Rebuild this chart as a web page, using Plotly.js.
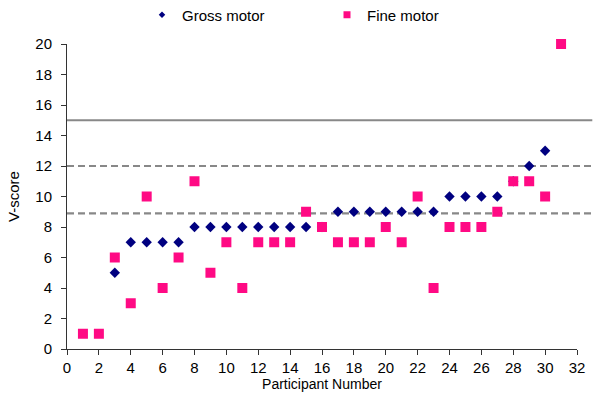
<!DOCTYPE html>
<html>
<head>
<meta charset="utf-8">
<script src="https://cdn.plot.ly/plotly-3.0.1.min.js"></script>
<style>html,body{margin:0;padding:0;background:#fff;}#chart{width:600px;height:400px;}</style>
</head>
<body>
<div id="chart"></div>
<script>
const grossX = [3,4,5,6,7,8,9,10,11,12,13,14,15,16,17,18,19,20,21,22,23,24,25,26,27,28,29,30];
const grossY = [5,7,7,7,7,8,8,8,8,8,8,8,8,8,9,9,9,9,9,9,9,10,10,10,10,11,12,13];
const fineX = [1,2,3,4,5,6,7,8,9,10,11,12,13,14,15,16,17,18,19,20,21,22,23,24,25,26,27,28,29,30,31];
const fineY = [1,1,6,3,10,4,6,11,5,7,4,7,7,7,9,8,7,7,7,8,7,10,4,8,8,8,9,11,11,10,20];
const solidLine = 15;
const dashedLines = [12, 8.9];
const xTicks = [0,2,4,6,8,10,12,14,16,18,20,22,24,26,28,30,32];
const yTicks = [0,2,4,6,8,10,12,14,16,18,20];

const navy = '#000080';
const pink = '#FF0A84';
const lineEnd = 1.03;
const shapes = [
  {type:'line', xref:'paper', yref:'y', x0:0, x1:lineEnd, y0:solidLine, y1:solidLine, line:{color:'#888888', width:2.2}, layer:'below'}
].concat(dashedLines.map(v => ({type:'line', xref:'paper', yref:'y', x0:0, x1:lineEnd, y0:v, y1:v, line:{color:'#888888', width:2.2, dash:'7px,4px'}, layer:'below'})));

const traces = [
  {x: grossX, y: grossY, name:'Gross motor', type:'scatter', mode:'markers', marker:{symbol:'diamond', size:8, color:navy}, cliponaxis:false, showlegend:false},
  {x: fineX, y: fineY, name:'Fine motor', type:'scatter', mode:'markers', marker:{symbol:'square', size:10, color:pink}, cliponaxis:false, showlegend:false},
  {x: [null], y: [null], name:'Gross motor', type:'scatter', mode:'markers', marker:{symbol:'diamond', size:5, color:navy}, legend:'legend'},
  {x: [null], y: [null], name:'Fine motor', type:'scatter', mode:'markers', marker:{symbol:'square', size:7, color:pink}, legend:'legend2'}
];

const legendBase = {orientation:'h', xref:'container', yref:'container', yanchor:'middle', xanchor:'left', font:{size:15, color:'#000'}, bgcolor:'rgba(0,0,0,0)', itemwidth:30};

const layout = {
  width:600, height:400,
  margin:{l:67, r:23, t:44, b:51},
  paper_bgcolor:'#fff', plot_bgcolor:'#fff',
  font:{family:'Liberation Sans, Arial, sans-serif', size:15, color:'#000'},
  showlegend:true,
  legend: Object.assign({}, legendBase, {x:142/600, y:1-15/400}),
  legend2: Object.assign({}, legendBase, {x:327/600, y:1-15/400}),
  xaxis:{range:[0,32], tickvals:xTicks, ticktext:xTicks.map(String), ticks:'outside', ticklen:5, tickcolor:'#333', showline:true, linecolor:'#333', linewidth:1, showgrid:false, zeroline:false, tickfont:{size:15}, title:{text:'Participant Number', font:{size:14}, standoff:3}},
  yaxis:{range:[0,20], tickvals:yTicks, ticktext:yTicks.map(String), ticks:'outside', ticklen:5, tickcolor:'#333', showline:true, linecolor:'#333', linewidth:1, showgrid:false, zeroline:false, tickfont:{size:15}, ticklabelstandoff:6, title:{text:'V-score', font:{size:15}, standoff:12}},
  shapes: shapes
};

Plotly.newPlot('chart', traces, layout, {staticPlot:true, displayModeBar:false});
</script>
</body>
</html>
